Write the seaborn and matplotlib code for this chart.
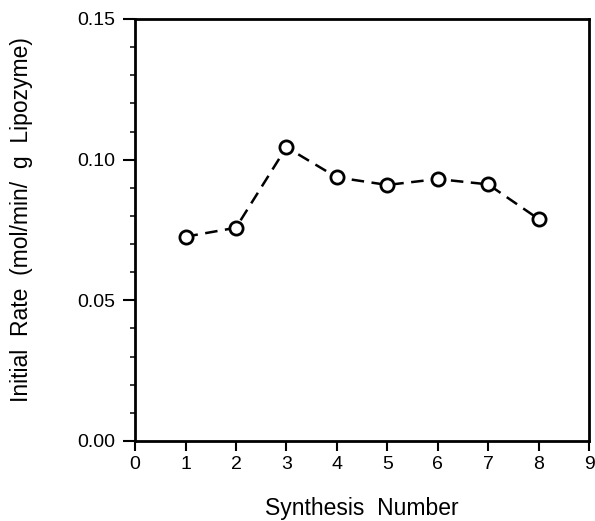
import matplotlib
matplotlib.use("Agg")
import matplotlib.pyplot as plt
import seaborn as sns
import pandas as pd
from matplotlib.ticker import MultipleLocator

synthesis = [1, 2, 3, 4, 5, 6, 7, 8]
rate = [0.0726, 0.0758, 0.1044, 0.0937, 0.0910, 0.0931, 0.0912, 0.0789]
xticks = [0, 1, 2, 3, 4, 5, 6, 7, 8, 9]
yticks = [0.00, 0.05, 0.10, 0.15]

sns.set_style("ticks")
plt.rcParams['font.family'] = ['Liberation Sans', 'DejaVu Sans']
plt.rcParams['text.color'] = 'black'
plt.rcParams['axes.labelcolor'] = 'black'

df = pd.DataFrame({"Synthesis Number": synthesis, "Rate": rate})

fig = plt.figure(figsize=(5.95, 5.21), dpi=100)
ax = fig.add_axes([0.227, 0.1536, 0.763, 0.81])
sns.lineplot(data=df, x="Synthesis Number", y="Rate", ax=ax, color="black",
             linestyle=(0, (5, 3)), linewidth=1.8, marker="o", markersize=9.5,
             markerfacecolor="white", markeredgecolor="black", markeredgewidth=2)

ax.set_xlim(0, 9)
ax.set_ylim(0, 0.15)
ax.set_xticks(xticks)
ax.set_yticks(yticks)
ax.set_yticklabels([f"{v:.2f}" for v in yticks])
ax.yaxis.set_minor_locator(MultipleLocator(0.01))
ax.tick_params(axis="y", which="major", direction="out", length=9, width=1.5,
               labelsize=14, colors="black", pad=5)
ax.tick_params(axis="x", which="major", direction="out", length=7, width=1.5,
               labelsize=14, colors="black", pad=4)
ax.tick_params(axis="y", which="minor", direction="out", length=3.5, width=1.3)
for s in ax.spines.values():
    s.set_visible(True)
    s.set_linewidth(2)
    s.set_color("black")
ax.set_xlabel("Synthesis  Number", fontsize=16.5, labelpad=17, color="black")
ax.set_ylabel("Initial  Rate  (mol/min/  g  Lipozyme)", fontsize=16.5, color="black")
ax.yaxis.set_label_coords(-0.225, 0.525)
fig.savefig("out.png", dpi=100)
